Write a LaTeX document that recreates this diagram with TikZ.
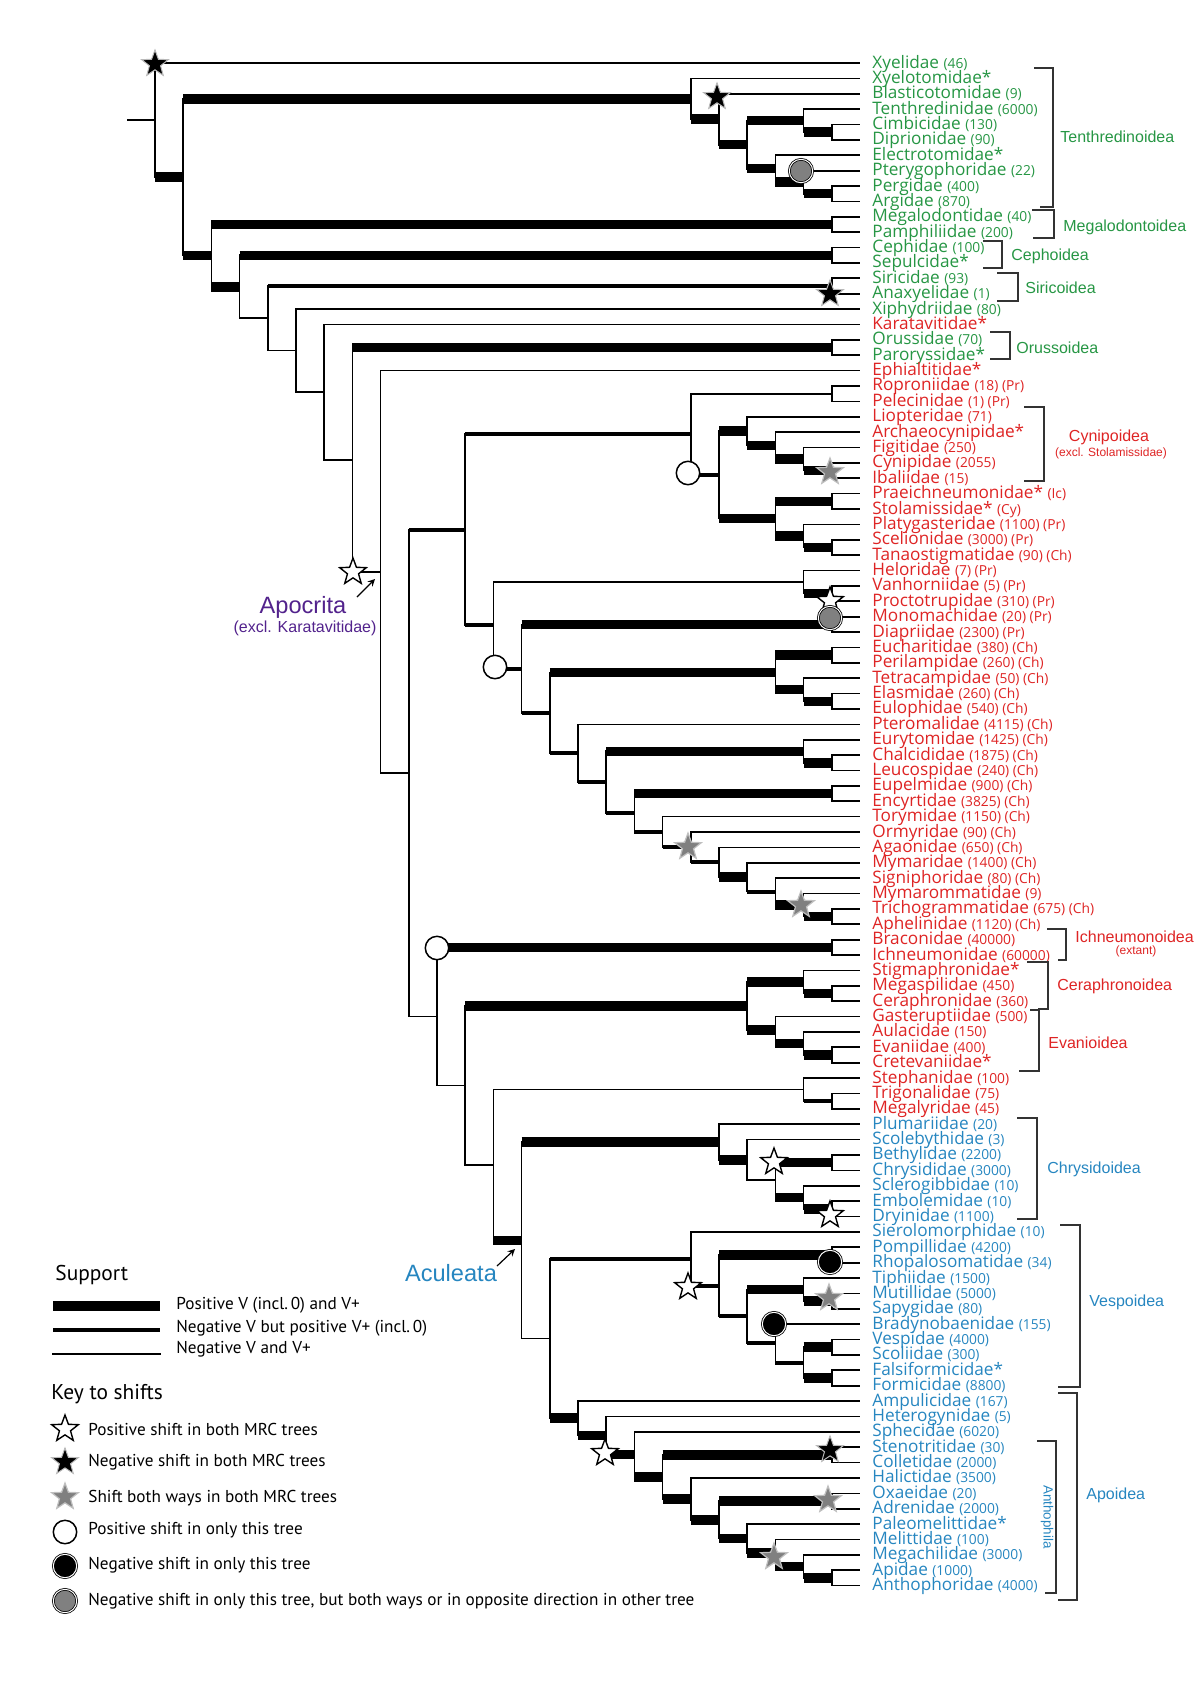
\documentclass[tikz,border=0pt]{standalone}
\usepackage{fontspec}
\setmainfont{Open Sans}
\newfontfamily\cladefont{Liberation Sans}
\newfontfamily\keyfont{PT Sans}
\usetikzlibrary{positioning,calc,shapes.geometric}
\definecolor{sawfly}{RGB}{38,150,68}
\definecolor{hymred}{RGB}{222,36,36}
\definecolor{aculblue}{RGB}{38,134,192}
\definecolor{apopurple}{RGB}{82,34,140}
\newcommand{\cnt}[1]{{\fontsize{6.9}{8}\selectfont #1}}
\newcommand{\taxon}[4]{% row, name, suffix, species count
  \coordinate (#2) at (859,{47.62+15.38*#1});
  \node[taxon] (#2-name) at (872,{52.62+15.38*#1}) {#2#3 \cnt{#4}};}
\newcommand{\clade}[6]{% name, level, upper child, its support, lower child, its support
  \draw[negsup] (L#2 |- #3) -- (L#2 |- #5);
  \draw[#4] (L#2 |- #3) -- (#3);
  \draw[#6] (L#2 |- #5) -- (#5);
  \coordinate (#1) at ($(L#2 |- #3)!0.5!(L#2 |- #5)$);}
\newcommand{\bracket}[5]{% top tick start, spine x, top y, bottom y, bottom tick start
  \draw[bracket] (#1,#3) -- (#2,#3) -- (#2,#4) -- (#5,#4);}
\tikzset{
  taxon/.style={anchor=base west,inner sep=0,font=\fontsize{8.6}{10}\selectfont,text=\taxcol},
  negsup/.style={line width=0.85pt,line cap=rect},
  partsup/.style={line width=2pt},
  possup/.style={line width=4.75pt},
  bracket/.style={line width=0.6pt,draw=black!80},
  cladelbl/.style={anchor=west,inner sep=0,font=\cladefont\fontsize{8}{9}\selectfont},
  cladesub/.style={anchor=center,inner sep=0,font=\cladefont\fontsize{6}{7}\selectfont},
  bigclade/.style={anchor=center,inner sep=0,font=\cladefont\fontsize{11.8}{13}\selectfont},
  pointer/.style={->,line width=0.6pt},
  posstar/.style={star,star points=5,star point ratio=2.4,minimum size=14pt,inner sep=0,draw=black,fill=white,line width=0.7pt},
  negstar/.style={posstar,fill=black,draw=gray!55,line width=0.5pt},
  bothstar/.style={posstar,fill=gray,draw=gray!50,line width=0.6pt},
  posdot/.style={circle,minimum size=11.7pt,inner sep=0,draw=black,fill=white,line width=0.75pt},
  negdot/.style={posdot,fill=black,double=white,double distance=0.5pt,line width=0.4pt},
  graydot/.style={negdot,fill=gray},
  keyhead/.style={anchor=west,inner sep=0,font=\keyfont\fontsize{10.7}{12}\selectfont},
  keytext/.style={anchor=west,inner sep=0,font=\keyfont\fontsize{8.6}{10}\selectfont},
}
\begin{document}
\begin{tikzpicture}[x=0.5pt,y=-0.5pt,>=stealth]
  \useasboundingbox (0,0) rectangle (1200,1698);
  \foreach \k in {0,...,24} \coordinate (L\k) at ({155+28.2*\k},0);
  % terminal taxa
  \def\taxcol{sawfly}
  \taxon{1}{Xyelidae}{}{(46)}
  \taxon{2}{Xyelotomidae}{*}{}
  \taxon{3}{Blasticotomidae}{}{(9)}
  \taxon{4}{Tenthredinidae}{}{(6000)}
  \taxon{5}{Cimbicidae}{}{(130)}
  \taxon{6}{Diprionidae}{}{(90)}
  \taxon{7}{Electrotomidae}{*}{}
  \taxon{8}{Pterygophoridae}{}{(22)}
  \taxon{9}{Pergidae}{}{(400)}
  \taxon{10}{Argidae}{}{(870)}
  \taxon{11}{Megalodontidae}{}{(40)}
  \taxon{12}{Pamphiliidae}{}{(200)}
  \taxon{13}{Cephidae}{}{(100)}
  \taxon{14}{Sepulcidae}{*}{}
  \taxon{15}{Siricidae}{}{(93)}
  \taxon{16}{Anaxyelidae}{}{(1)}
  \taxon{17}{Xiphydriidae}{}{(80)}
  \def\taxcol{hymred}
  \taxon{18}{Karatavitidae}{*}{}
  \def\taxcol{sawfly}
  \taxon{19}{Orussidae}{}{(70)}
  \taxon{20}{Paroryssidae}{*}{}
  \def\taxcol{hymred}
  \taxon{21}{Ephialtitidae}{*}{}
  \taxon{22}{Roproniidae}{}{(18) (Pr)}
  \taxon{23}{Pelecinidae}{}{(1) (Pr)}
  \taxon{24}{Liopteridae}{}{(71)}
  \taxon{25}{Archaeocynipidae}{*}{}
  \taxon{26}{Figitidae}{}{(250)}
  \taxon{27}{Cynipidae}{}{(2055)}
  \taxon{28}{Ibaliidae}{}{(15)}
  \taxon{29}{Praeichneumonidae}{*}{(Ic)}
  \taxon{30}{Stolamissidae}{*}{(Cy)}
  \taxon{31}{Platygasteridae}{}{(1100) (Pr)}
  \taxon{32}{Scelionidae}{}{(3000) (Pr)}
  \taxon{33}{Tanaostigmatidae}{}{(90) (Ch)}
  \taxon{34}{Heloridae}{}{(7) (Pr)}
  \taxon{35}{Vanhorniidae}{}{(5) (Pr)}
  \taxon{36}{Proctotrupidae}{}{(310) (Pr)}
  \taxon{37}{Monomachidae}{}{(20) (Pr)}
  \taxon{38}{Diapriidae}{}{(2300) (Pr)}
  \taxon{39}{Eucharitidae}{}{(380) (Ch)}
  \taxon{40}{Perilampidae}{}{(260) (Ch)}
  \taxon{41}{Tetracampidae}{}{(50) (Ch)}
  \taxon{42}{Elasmidae}{}{(260) (Ch)}
  \taxon{43}{Eulophidae}{}{(540) (Ch)}
  \taxon{44}{Pteromalidae}{}{(4115) (Ch)}
  \taxon{45}{Eurytomidae}{}{(1425) (Ch)}
  \taxon{46}{Chalcididae}{}{(1875) (Ch)}
  \taxon{47}{Leucospidae}{}{(240) (Ch)}
  \taxon{48}{Eupelmidae}{}{(900) (Ch)}
  \taxon{49}{Encyrtidae}{}{(3825) (Ch)}
  \taxon{50}{Torymidae}{}{(1150) (Ch)}
  \taxon{51}{Ormyridae}{}{(90) (Ch)}
  \taxon{52}{Agaonidae}{}{(650) (Ch)}
  \taxon{53}{Mymaridae}{}{(1400) (Ch)}
  \taxon{54}{Signiphoridae}{}{(80) (Ch)}
  \taxon{55}{Mymarommatidae}{}{(9)}
  \taxon{56}{Trichogrammatidae}{}{(675) (Ch)}
  \taxon{57}{Aphelinidae}{}{(1120) (Ch)}
  \taxon{58}{Braconidae}{}{(40000)}
  \taxon{59}{Ichneumonidae}{}{(60000)}
  \taxon{60}{Stigmaphronidae}{*}{}
  \taxon{61}{Megaspilidae}{}{(450)}
  \taxon{62}{Ceraphronidae}{}{(360)}
  \taxon{63}{Gasteruptiidae}{}{(500)}
  \taxon{64}{Aulacidae}{}{(150)}
  \taxon{65}{Evaniidae}{}{(400)}
  \taxon{66}{Cretevaniidae}{*}{}
  \taxon{67}{Stephanidae}{}{(100)}
  \taxon{68}{Trigonalidae}{}{(75)}
  \taxon{69}{Megalyridae}{}{(45)}
  \def\taxcol{aculblue}
  \taxon{70}{Plumariidae}{}{(20)}
  \taxon{71}{Scolebythidae}{}{(3)}
  \taxon{72}{Bethylidae}{}{(2200)}
  \taxon{73}{Chrysididae}{}{(3000)}
  \taxon{74}{Sclerogibbidae}{}{(10)}
  \taxon{75}{Embolemidae}{}{(10)}
  \taxon{76}{Dryinidae}{}{(1100)}
  \taxon{77}{Sierolomorphidae}{}{(10)}
  \taxon{78}{Pompillidae}{}{(4200)}
  \taxon{79}{Rhopalosomatidae}{}{(34)}
  \taxon{80}{Tiphiidae}{}{(1500)}
  \taxon{81}{Mutillidae}{}{(5000)}
  \taxon{82}{Sapygidae}{}{(80)}
  \taxon{83}{Bradynobaenidae}{}{(155)}
  \taxon{84}{Vespidae}{}{(4000)}
  \taxon{85}{Scoliidae}{}{(300)}
  \taxon{86}{Falsiformicidae}{*}{}
  \taxon{87}{Formicidae}{}{(8800)}
  \taxon{88}{Ampulicidae}{}{(167)}
  \taxon{89}{Heterogynidae}{}{(5)}
  \taxon{90}{Sphecidae}{}{(6020)}
  \taxon{91}{Stenotritidae}{}{(30)}
  \taxon{92}{Colletidae}{}{(2000)}
  \taxon{93}{Halictidae}{}{(3500)}
  \taxon{94}{Oxaeidae}{}{(20)}
  \taxon{95}{Adrenidae}{}{(2000)}
  \taxon{96}{Paleomelittidae}{*}{}
  \taxon{97}{Melittidae}{}{(100)}
  \taxon{98}{Megachilidae}{}{(3000)}
  \taxon{99}{Apidae}{}{(1000)}
  \taxon{100}{Anthophoridae}{}{(4000)}
  % sawflies
  \clade{CimDip}{24}{Cimbicidae}{negsup}{Diprionidae}{negsup}
  \clade{Tenth}{23}{Tenthredinidae}{negsup}{CimDip}{possup}
  \clade{PerArg}{24}{Pergidae}{negsup}{Argidae}{negsup}
  \clade{Ptery}{23}{Pterygophoridae}{negsup}{PerArg}{possup}
  \clade{Electro}{22}{Electrotomidae}{negsup}{Ptery}{possup}
  \clade{TenEl}{21}{Tenth}{possup}{Electro}{possup}
  \clade{Blast}{20}{Blasticotomidae}{negsup}{TenEl}{possup}
  \clade{Tenthredinoidea}{19}{Xyelotomidae}{negsup}{Blast}{possup}
  \clade{Megalodontoidea}{24}{Megalodontidae}{negsup}{Pamphiliidae}{negsup}
  \clade{Cephoidea}{24}{Cephidae}{negsup}{Sepulcidae}{negsup}
  \clade{SirAnax}{24}{Siricidae}{negsup}{Anaxyelidae}{negsup}
  \clade{Orussoidea}{24}{Orussidae}{negsup}{Paroryssidae}{negsup}
  % Proctotrupomorpha
  \clade{RopPel}{24}{Roproniidae}{negsup}{Pelecinidae}{negsup}
  \clade{CynIba}{24}{Cynipidae}{negsup}{Ibaliidae}{negsup}
  \clade{Figi}{23}{Figitidae}{negsup}{CynIba}{possup}
  \clade{Archaeo}{22}{Archaeocynipidae}{negsup}{Figi}{possup}
  \clade{Cynipoidea}{21}{Liopteridae}{negsup}{Archaeo}{possup}
  \clade{PraeSto}{24}{Praeichneumonidae}{negsup}{Stolamissidae}{negsup}
  \clade{SceTan}{24}{Scelionidae}{negsup}{Tanaostigmatidae}{negsup}
  \clade{Platy}{23}{Platygasteridae}{negsup}{SceTan}{possup}
  \clade{Platygastroidea}{22}{PraeSto}{possup}{Platy}{possup}
  \clade{CynPla}{20}{Cynipoidea}{possup}{Platygastroidea}{possup}
  \clade{Pelecin}{19}{RopPel}{negsup}{CynPla}{partsup}
  \clade{VanPro}{24}{Vanhorniidae}{negsup}{Proctotrupidae}{negsup}
  \clade{Helor}{23}{Heloridae}{negsup}{VanPro}{possup}
  \clade{MonDia}{24}{Monomachidae}{negsup}{Diapriidae}{negsup}
  % Chalcidoidea
  \clade{EucPer}{24}{Eucharitidae}{negsup}{Perilampidae}{negsup}
  \clade{ElaEul}{24}{Elasmidae}{negsup}{Eulophidae}{negsup}
  \clade{Tetrac}{23}{Tetracampidae}{negsup}{ElaEul}{possup}
  \clade{Euchar}{22}{EucPer}{possup}{Tetrac}{possup}
  \clade{ChaLeu}{24}{Chalcididae}{negsup}{Leucospidae}{negsup}
  \clade{Euryt}{23}{Eurytomidae}{negsup}{ChaLeu}{possup}
  \clade{EupEnc}{24}{Eupelmidae}{negsup}{Encyrtidae}{negsup}
  \clade{TriAph}{24}{Trichogrammatidae}{negsup}{Aphelinidae}{negsup}
  \clade{Mymarom}{23}{Mymarommatidae}{negsup}{TriAph}{possup}
  \clade{Signi}{22}{Signiphoridae}{negsup}{Mymarom}{possup}
  \clade{Mymar}{21}{Mymaridae}{negsup}{Signi}{partsup}
  \clade{Agaon}{20}{Agaonidae}{negsup}{Mymar}{possup}
  \clade{Ormyr}{19}{Ormyridae}{negsup}{Agaon}{partsup}
  \clade{Torym}{18}{Torymidae}{negsup}{Ormyr}{partsup}
  \clade{Eupelm}{17}{EupEnc}{possup}{Torym}{partsup}
  \clade{Eurytomid}{16}{Euryt}{possup}{Eupelm}{partsup}
  \clade{Pterom}{15}{Pteromalidae}{negsup}{Eurytomid}{partsup}
  \clade{Chalcidoidea}{14}{Euchar}{possup}{Pterom}{partsup}
  \clade{Diapr}{13}{MonDia}{possup}{Chalcidoidea}{partsup}
  \clade{Proctotrupomorpha}{12}{Helor}{negsup}{Diapr}{partsup}
  \clade{ProctoPel}{11}{Pelecin}{partsup}{Proctotrupomorpha}{partsup}
  % Ichneumonoidea, Evaniomorpha
  \clade{Ichneumonoidea}{24}{Braconidae}{negsup}{Ichneumonidae}{negsup}
  \clade{MegCer}{24}{Megaspilidae}{negsup}{Ceraphronidae}{negsup}
  \clade{Ceraphronoidea}{23}{Stigmaphronidae}{negsup}{MegCer}{possup}
  \clade{EvaCre}{24}{Evaniidae}{negsup}{Cretevaniidae}{negsup}
  \clade{Aulac}{23}{Aulacidae}{negsup}{EvaCre}{possup}
  \clade{Evanioidea}{22}{Gasteruptiidae}{negsup}{Aulac}{possup}
  \clade{CerEva}{21}{Ceraphronoidea}{possup}{Evanioidea}{possup}
  \clade{TriMeg}{24}{Trigonalidae}{negsup}{Megalyridae}{negsup}
  \clade{Stephan}{23}{Stephanidae}{negsup}{TriMeg}{partsup}
  % Chrysidoidea
  \clade{BetChr}{24}{Bethylidae}{negsup}{Chrysididae}{negsup}
  \clade{EmbDry}{24}{Embolemidae}{negsup}{Dryinidae}{negsup}
  \clade{Sclero}{23}{Sclerogibbidae}{negsup}{EmbDry}{possup}
  \clade{Bethyl}{22}{BetChr}{possup}{Sclero}{possup}
  \clade{Scoleb}{21}{Scolebythidae}{negsup}{Bethyl}{negsup}
  \clade{Chrysidoidea}{20}{Plumariidae}{negsup}{Scoleb}{possup}
  % Vespoidea
  \clade{PomRho}{24}{Pompillidae}{negsup}{Rhopalosomatidae}{negsup}
  \clade{MutSap}{24}{Mutillidae}{negsup}{Sapygidae}{negsup}
  \clade{Tiph}{23}{Tiphiidae}{negsup}{MutSap}{possup}
  \clade{VesSco}{24}{Vespidae}{negsup}{Scoliidae}{negsup}
  \clade{Formic}{24}{Falsiformicidae}{negsup}{Formicidae}{negsup}
  \clade{VesFor}{23}{VesSco}{possup}{Formic}{possup}
  \clade{Bradyn}{22}{Bradynobaenidae}{negsup}{VesFor}{partsup}
  \clade{TipBra}{21}{Tiph}{possup}{Bradyn}{partsup}
  \clade{PomTip}{20}{PomRho}{possup}{TipBra}{partsup}
  \clade{Vespoidea}{19}{Sierolomorphidae}{negsup}{PomTip}{partsup}
  % Apoidea
  \clade{StenCol}{24}{Stenotritidae}{negsup}{Colletidae}{negsup}
  \clade{OxaAdr}{24}{Oxaeidae}{negsup}{Adrenidae}{negsup}
  \clade{ApiAnt}{24}{Apidae}{negsup}{Anthophoridae}{negsup}
  \clade{Megach}{23}{Megachilidae}{negsup}{ApiAnt}{possup}
  \clade{Melitt}{22}{Melittidae}{negsup}{Megach}{possup}
  \clade{Paleom}{21}{Paleomelittidae}{negsup}{Melitt}{possup}
  \clade{AndrRest}{20}{OxaAdr}{possup}{Paleom}{possup}
  \clade{Halict}{19}{Halictidae}{negsup}{AndrRest}{possup}
  \clade{Anthophila}{18}{StenCol}{possup}{Halict}{possup}
  \clade{Sphec}{17}{Sphecidae}{negsup}{Anthophila}{possup}
  \clade{Heterog}{16}{Heterogynidae}{negsup}{Sphec}{possup}
  \clade{Apoidea}{15}{Ampulicidae}{negsup}{Heterog}{possup}
  % backbone
  \clade{VesApo}{14}{Vespoidea}{partsup}{Apoidea}{possup}
  \clade{Aculeata}{13}{Chrysidoidea}{possup}{VesApo}{negsup}
  \clade{StepAcu}{12}{Stephan}{negsup}{Aculeata}{possup}
  \clade{EvaAcu}{11}{CerEva}{possup}{StepAcu}{negsup}
  \clade{IchAcu}{10}{Ichneumonoidea}{possup}{EvaAcu}{negsup}
  \clade{Apocrita}{9}{ProctoPel}{partsup}{IchAcu}{negsup}
  \clade{Ephial}{8}{Ephialtitidae}{negsup}{Apocrita}{negsup}
  \clade{Orussapo}{7}{Orussoidea}{possup}{Ephial}{negsup}
  \clade{Karat}{6}{Karatavitidae}{negsup}{Orussapo}{negsup}
  \clade{Xiphyd}{5}{Xiphydriidae}{negsup}{Karat}{negsup}
  \clade{Siric}{4}{SirAnax}{partsup}{Xiphyd}{negsup}
  \clade{Ceph}{3}{Cephoidea}{possup}{Siric}{negsup}
  \clade{Megal}{2}{Megalodontoidea}{possup}{Ceph}{possup}
  \clade{Unicalc}{1}{Tenthredinoidea}{possup}{Megal}{possup}
  \clade{root}{0}{Xyelidae}{negsup}{Unicalc}{possup}
  \coordinate (stem) at ($(root)+(-27,0)$);
  \draw[negsup] (stem) -- (root);
  % rate shifts
  \node[negstar] (m1) at (155,64) {};
  \node[negstar] (m2) at (717,97) {};
  \node[graydot] (m3) at (801,171) {};
  \node[negstar] (m4) at (830,294) {};
  \node[posstar] (m5) at (353,572) {};
  \node[posdot] (m6) at (688,473) {};
  \node[bothstar] (m7) at (830,472) {};
  \node[posdot] (m8) at (495,667) {};
  \node[posstar] (m9) at (830,601) {};
  \node[graydot] (m10) at (830,618) {};
  \node[bothstar] (m11) at (688,847) {};
  \node[bothstar] (m12) at (801,905) {};
  \node[posdot] (m13) at (437,948) {};
  \node[posstar] (m14) at (774,1162) {};
  \node[posstar] (m15) at (830,1215) {};
  \node[posstar] (m16) at (688,1287) {};
  \node[negdot] (m17) at (830,1262) {};
  \node[bothstar] (m18) at (829,1298) {};
  \node[negdot] (m19) at (774,1324) {};
  \node[posstar] (m20) at (605,1453) {};
  \node[negstar] (m21) at (830,1450) {};
  \node[bothstar] (m22) at (828,1500) {};
  \node[bothstar] (m23) at (774,1557) {};
  % superfamily brackets
  \bracket{1034}{1053}{68}{207}{1040}
  \bracket{1032}{1054}{210}{238}{1033}
  \bracket{983}{1002}{241}{268}{983}
  \bracket{997}{1018}{273}{301}{997}
  \bracket{990}{1010}{332}{359}{990}
  \bracket{1024}{1044}{407}{481}{1024}
  \bracket{1047}{1066}{929}{960}{1058}
  \bracket{1027}{1048}{962}{1009}{1038}
  \bracket{1030}{1039}{1010}{1071}{1019}
  \bracket{1017}{1037}{1118}{1219}{1017}
  \bracket{1060}{1080}{1225}{1387}{1058}
  \bracket{1058}{1077}{1393}{1600}{1058}
  \bracket{1037}{1056}{1441}{1593}{1045}
  \node[cladelbl,text=sawfly] (tenthr-lbl) at (1060,137) {Tenthredinoidea};
  \node[cladelbl,text=sawfly] (megal-lbl) at (1063,227) {Megalodontoidea};
  \node[cladelbl,text=sawfly] (ceph-lbl) at (1011,256) {Cephoidea};
  \node[cladelbl,text=sawfly] (siric-lbl) at (1025,288) {Siricoidea};
  \node[cladelbl,text=sawfly] (oruss-lbl) at (1016,348) {Orussoidea};
  \node[cladelbl,text=hymred,anchor=center] (cynip-lbl) at (1109,437) {Cynipoidea};
  \node[cladesub,text=hymred] (cynip-sub) at (1111,453) {(excl. Stolamissidae)};
  \node[cladelbl,text=hymred] (ichn-lbl) at (1075,937) {Ichneumonoidea};
  \node[cladesub,text=hymred] (ichn-sub) at (1136,951) {(extant)};
  \node[cladelbl,text=hymred] (ceraph-lbl) at (1057,986) {Ceraphronoidea};
  \node[cladelbl,text=hymred] (evan-lbl) at (1048,1043) {Evanioidea};
  \node[cladelbl,text=aculblue] (chrys-lbl) at (1047,1169) {Chrysidoidea};
  \node[cladelbl,text=aculblue] (vesp-lbl) at (1089,1302) {Vespoidea};
  \node[cladelbl,text=aculblue] (apoid-lbl) at (1086,1495) {Apoidea};
  \node[cladesub,text=aculblue,rotate=-90,font=\cladefont\fontsize{6.7}{8}\selectfont] (anthoph-lbl) at (1047,1517) {Anthophila};
  % Apocrita and Aculeata
  \node[bigclade,text=apopurple] (apo-lbl) at (303,607) {Apocrita};
  \node[cladesub,text=apopurple,font=\cladefont\fontsize{8}{9}\selectfont] (apo-sub) at (305,628) {(excl. Karatavitidae)};
  \coordinate (apo-tail) at (357,597);
  \coordinate (apo-head) at (375,579);
  \draw[pointer] (apo-tail) -- (apo-head);
  \node[bigclade,text=aculblue] (acu-lbl) at (451,1273) {Aculeata};
  \coordinate (acu-tail) at (497,1266);
  \coordinate (acu-head) at (515,1249);
  \draw[pointer] (acu-tail) -- (acu-head);
  % legend: support
  \node[keyhead] (support) at (55,1275) {Support};
  \coordinate (sp1) at (53,1306); \coordinate (sp1e) at (160,1306);
  \coordinate (sp2) at (53,1330); \coordinate (sp2e) at (160,1330);
  \coordinate (sp3) at (53,1354); \coordinate (sp3e) at (160,1354);
  \draw[possup,line width=5pt] (sp1) -- (sp1e);
  \draw[partsup,line width=2.4pt] (sp2) -- (sp2e);
  \draw[negsup,line width=1.2pt] (sp3) -- (sp3e);
  \node[keytext] (sp1-txt) at (176,1305) {Positive V (incl.\,0) and V+};
  \node[keytext] (sp2-txt) at (176,1328) {Negative V but positive V+ (incl.\,0)};
  \node[keytext] (sp3-txt) at (176,1349) {Negative V and V+};
  % legend: shifts
  \node[keyhead] (shifts) at (51,1394) {Key to shifts};
  \node[posstar] (k1) at (65,1429) {};
  \node[negstar] (k2) at (65,1462) {};
  \node[bothstar] (k3) at (65,1497) {};
  \node[posdot] (k4) at (65,1532) {};
  \node[negdot] (k5) at (65,1566) {};
  \node[graydot] (k6) at (65,1601) {};
  \node[keytext] (k1-txt) at (88,1429) {Positive shift in both MRC trees};
  \node[keytext] (k2-txt) at (88,1462) {Negative shift in both MRC trees};
  \node[keytext] (k3-txt) at (88,1498) {Shift both ways in both MRC trees};
  \node[keytext] (k4-txt) at (88,1530) {Positive shift in only this tree};
  \node[keytext] (k5-txt) at (88,1565) {Negative shift in only this tree};
  \node[keytext] (k6-txt) at (88,1601) {Negative shift in only this tree, but both ways or in opposite direction in other tree};
\end{tikzpicture}
\end{document}
